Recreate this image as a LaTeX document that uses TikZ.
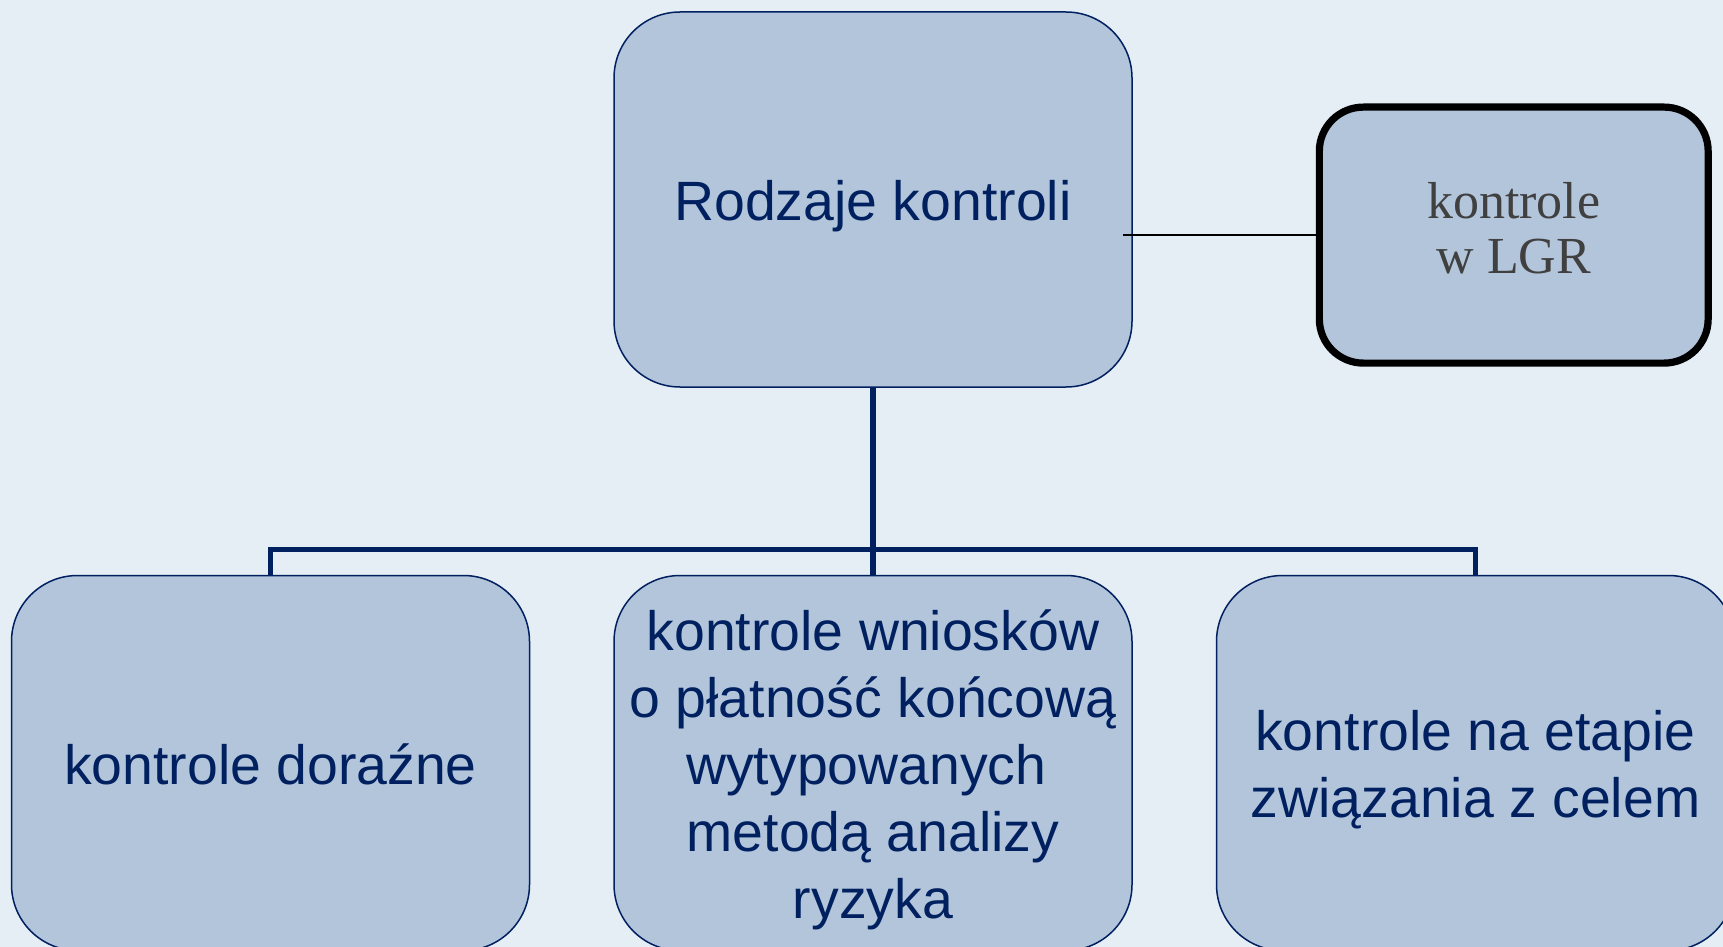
\documentclass[tikz,border=0pt]{standalone}
\usepackage{fontspec}
\setmainfont{Liberation Sans}
\newfontfamily\lgrfont{Liberation Serif}
\usetikzlibrary{positioning}

\definecolor{tlo}{HTML}{E5EDF5}
\definecolor{wypelnienie}{HTML}{B3C5DB}
\definecolor{granat}{HTML}{002060}
\definecolor{szary}{HTML}{404040}

% odstepy wierszy jak w prezentacji
\newcommand{\wiersz}{\rule[-6.15pt]{0pt}{33.5pt}}
\newcommand{\wierszlgr}{\rule[-8.15pt]{0pt}{27.5pt}}

\begin{document}
\begin{tikzpicture}[semithick,node distance=41.5pt]
	\tikzstyle{pole}=[rectangle,rounded corners=33pt,fill=wypelnienie,draw=granat,line width=0.75pt,minimum width=259pt,minimum height=187.5pt,inner sep=0pt,align=center,text=granat,font=\fontsize{27.7}{33.5}\selectfont]
	\tikzstyle{ramka}=[rectangle,rounded corners=22pt,fill=wypelnienie,draw=black,line width=3.6pt,minimum width=194.4pt,minimum height=128pt,inner sep=0pt,align=center,text=szary,font=\lgrfont\fontsize{26}{27.5}\selectfont]
	\tikzstyle{galaz}=[draw=granat,line width=2.7pt]

	\useasboundingbox (0,0) rectangle (861.5pt,-473.5pt);
	\fill[tlo] (0,0) rectangle (861.5pt,-473.5pt);

	\node[pole] (rodzaje) at (436.5pt,-99.75pt) {\wiersz Rodzaje kontroli};
	\node[pole] (wnioski) [below=93.5pt of rodzaje] {\wiersz kontrole wniosków\\o płatność końcową\\wytypowanych\kern6.6pt\\metodą analizy\\ryzyka\wiersz};
	\node[pole] (dorazne) [left=of wnioski] {\wiersz kontrole doraźne};
	\node[pole] (etap) [right=of wnioski] {\wiersz kontrole na etapie\\związania z celem\wiersz};
	\node[ramka] (lgr) [right=91.5pt of rodzaje,yshift=-17.8pt] {\wierszlgr kontrole\\w LGR\wierszlgr};

	\draw[galaz] (rodzaje.south) -- (wnioski.north);
	\draw[galaz] (dorazne.north) -- ++(0,12.5pt) -| (etap.north);
	\draw[line width=1.1pt] ([xshift=-5pt]rodzaje.east |- lgr.west) -- (lgr.west);
\end{tikzpicture}
\end{document}
